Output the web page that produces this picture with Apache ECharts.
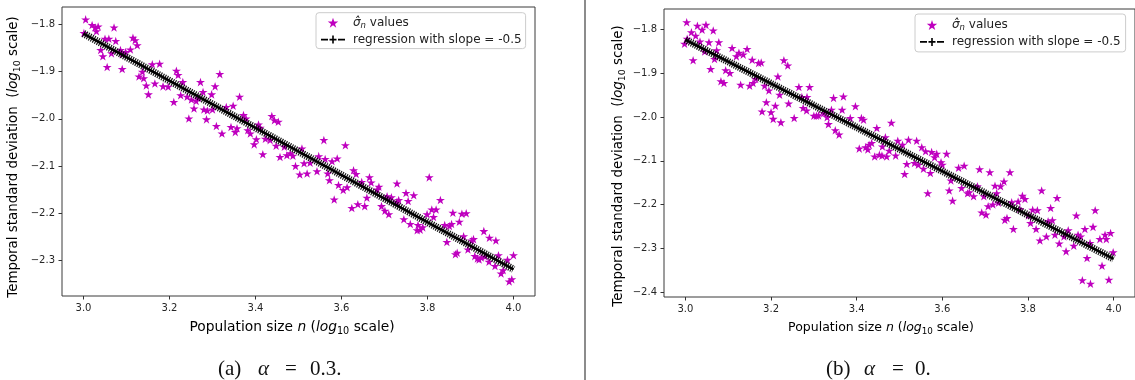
<!DOCTYPE html>
<html>
<head>
<meta charset="utf-8">
<script src="https://cdn.jsdelivr.net/npm/echarts@6/dist/echarts.min.js"></script>
<style>html,body{margin:0;padding:0;background:#fff;}#c{width:1135px;height:380px;}</style>
</head>
<body>
<div id="c"></div>
<script>
// ---- data ----
const xTicks = [3.0, 3.2, 3.4, 3.6, 3.8, 4.0];
const yTicksA = [-2.3, -2.2, -2.1, -2.0, -1.9, -1.8];
const yTicksB = [-2.4, -2.3, -2.2, -2.1, -2.0, -1.9, -1.8];

// (a) alpha = 0.3 : sigma_n values [log10 n, log10 sigma]
const sigmaA = [
[3.005,-1.789],[3.020,-1.801],[3.027,-1.806],[3.034,-1.804],[3.030,-1.814],[3.071,-1.806],[3.001,-1.818],[3.050,-1.830],[3.059,-1.830],[3.075,-1.835],
[3.115,-1.828],[3.120,-1.833],[3.125,-1.844],[3.040,-1.854],[3.045,-1.867],[3.065,-1.861],[3.086,-1.854],[3.098,-1.858],[3.109,-1.853],[3.090,-1.863],
[3.055,-1.890],[3.090,-1.894],[3.160,-1.884],[3.177,-1.883],[3.137,-1.900],[3.129,-1.910],[3.140,-1.914],[3.146,-1.929],[3.151,-1.948],[3.166,-1.925],
[3.185,-1.931],[3.197,-1.932],[3.216,-1.898],[3.220,-1.907],[3.231,-1.922],[3.210,-1.964],[3.226,-1.950],[3.241,-1.953],[3.251,-1.959],[3.262,-1.962],
[3.267,-1.955],[3.272,-1.922],[3.278,-1.943],[3.298,-1.948],[3.306,-1.931],[3.257,-1.978],[3.245,-1.999],[3.280,-1.980],[3.288,-1.982],[3.300,-1.980],
[3.286,-2.001],[3.309,-2.015],[3.317,-1.905],
[3.332,-1.975],[3.348,-1.972],[3.363,-1.953],[3.322,-2.031],[3.343,-2.017],[3.353,-2.028],[3.357,-2.020],[3.372,-1.992],[3.378,-1.999],[3.382,-2.024],
[3.388,-2.031],[3.407,-2.012],[3.411,-2.019],[3.438,-1.994],[3.444,-2.003],[3.453,-2.006],[3.402,-2.043],[3.397,-2.054],[3.423,-2.042],[3.434,-2.045],
[3.417,-2.075],[3.448,-2.057],[3.467,-2.059],[3.457,-2.081],[3.473,-2.077],[3.481,-2.073],[3.487,-2.078],[3.508,-2.063],[3.493,-2.100],[3.503,-2.118],
[3.520,-2.116],[3.513,-2.094],[3.527,-2.093],[3.543,-2.111],[3.559,-2.045],[3.547,-2.079],[3.562,-2.085],[3.578,-2.090],[3.590,-2.084],[3.568,-2.116],
[3.572,-2.130],[3.593,-2.140],[3.604,-2.151],[3.613,-2.145],[3.609,-2.056],[3.583,-2.171],[3.624,-2.189],[3.628,-2.109],
[3.634,-2.117],[3.647,-2.134],[3.665,-2.124],[3.669,-2.135],[3.687,-2.144],[3.683,-2.150],[3.729,-2.137],[3.804,-2.124],[3.638,-2.181],[3.654,-2.185],
[3.659,-2.167],[3.693,-2.185],[3.701,-2.195],[3.710,-2.202],[3.706,-2.164],[3.716,-2.166],[3.729,-2.176],[3.733,-2.172],[3.750,-2.157],[3.755,-2.174],
[3.768,-2.162],[3.745,-2.213],[3.760,-2.223],[3.778,-2.225],[3.783,-2.235],[3.776,-2.236],[3.789,-2.230],[3.799,-2.202],[3.810,-2.192],[3.820,-2.192],
[3.814,-2.208],[3.830,-2.172],[3.859,-2.199],[3.880,-2.201],[3.890,-2.200],[3.874,-2.218],[3.840,-2.225],[3.851,-2.227],[3.856,-2.223],[3.845,-2.261],
[3.884,-2.249],[3.865,-2.287],[3.869,-2.284],[3.894,-2.277],[3.903,-2.258],[3.907,-2.255],[3.931,-2.238],[3.910,-2.291],[3.916,-2.296],[3.925,-2.294],
[3.934,-2.292],[3.920,-2.298],[3.944,-2.252],
[3.959,-2.258],[3.943,-2.303],[3.957,-2.312],[3.965,-2.289],[3.986,-2.299],[3.971,-2.328],[3.976,-2.321],[3.990,-2.345],[3.996,-2.340],[4.000,-2.289]
];
const regA = [[3.0, -1.819], [4.0, -2.319]];

// (b) alpha = 0
const sigmaB = [
[3.003,-1.783],[3.028,-1.791],[3.039,-1.800],[3.048,-1.789],[3.065,-1.802],[3.014,-1.806],[3.024,-1.814],[3.004,-1.821],[2.998,-1.832],[3.034,-1.827],
[3.055,-1.829],[3.078,-1.829],[3.018,-1.870],[3.045,-1.850],[3.073,-1.847],[3.068,-1.867],[3.059,-1.890],[3.109,-1.842],[3.125,-1.853],[3.119,-1.861],
[3.135,-1.857],[3.144,-1.844],[3.094,-1.893],[3.104,-1.899],[3.083,-1.918],[3.090,-1.922],[3.156,-1.869],[3.171,-1.876],[3.177,-1.875],[3.129,-1.926],
[3.150,-1.928],[3.164,-1.913],[3.158,-1.922],[3.230,-1.870],[3.239,-1.882],[3.216,-1.907],[3.185,-1.928],[3.195,-1.939],[3.220,-1.949],[3.241,-1.969],
[3.189,-1.966],[3.179,-1.987],[3.200,-1.989],[3.210,-1.974],[3.205,-2.004],[3.223,-2.012],[3.254,-2.002],[3.265,-1.931],[3.290,-1.931],[3.272,-1.954],
[3.284,-1.954],[3.275,-1.979],[3.283,-1.985],[3.300,-1.997],[3.306,-1.997],
[3.346,-1.956],[3.369,-1.953],[3.397,-1.975],[3.366,-1.983],[3.341,-1.983],[3.311,-1.996],[3.323,-1.991],[3.331,-2.000],[3.334,-2.016],[3.350,-2.030],
[3.359,-2.040],[3.385,-2.002],[3.411,-2.002],[3.416,-2.006],[3.481,-2.013],[3.447,-2.025],[3.406,-2.072],[3.421,-2.069],[3.429,-2.063],[3.426,-2.074],
[3.435,-2.059],[3.442,-2.090],[3.453,-2.086],[3.459,-2.088],[3.470,-2.090],[3.460,-2.067],[3.467,-2.046],[3.476,-2.077],[3.491,-2.088],[3.496,-2.054],
[3.507,-2.063],[3.521,-2.052],[3.540,-2.054],[3.552,-2.069],[3.561,-2.078],[3.575,-2.080],[3.587,-2.084],[3.582,-2.092],[3.610,-2.084],[3.517,-2.107],
[3.535,-2.105],[3.544,-2.109],[3.512,-2.130],[3.556,-2.118],[3.572,-2.128],[3.597,-2.103],[3.600,-2.109],[3.566,-2.174],[3.616,-2.168],[3.620,-2.145],
[3.624,-2.191],
[3.638,-2.116],[3.651,-2.111],[3.687,-2.119],[3.711,-2.126],[3.758,-2.126],[3.645,-2.162],[3.659,-2.174],[3.663,-2.172],[3.673,-2.181],[3.682,-2.158],
[3.697,-2.181],[3.723,-2.157],[3.736,-2.158],[3.744,-2.147],[3.727,-2.174],[3.718,-2.200],[3.707,-2.204],[3.731,-2.196],[3.692,-2.218],[3.702,-2.223],
[3.746,-2.235],[3.751,-2.231],[3.766,-2.256],[3.762,-2.195],[3.777,-2.193],[3.787,-2.180],[3.793,-2.187],[3.781,-2.210],[3.801,-2.225],[3.806,-2.242],
[3.811,-2.212],[3.822,-2.213],[3.832,-2.168],[3.819,-2.256],[3.828,-2.282],[3.843,-2.273],[3.853,-2.208],[3.868,-2.185],[3.847,-2.238],[3.857,-2.236],
[3.863,-2.269],[3.873,-2.289],[3.884,-2.273],[3.889,-2.307],[3.894,-2.259],[3.907,-2.294],[3.913,-2.225],[3.917,-2.269],[3.923,-2.273],[3.933,-2.256],
[3.938,-2.322],[3.927,-2.373],[3.946,-2.381],[3.945,-2.288],[3.957,-2.213],[3.952,-2.251],
[3.968,-2.279],[3.980,-2.269],[3.983,-2.279],[3.993,-2.265],[3.999,-2.309],[3.973,-2.340],[3.989,-2.372]
];
const regB = [[3.0, -1.823], [4.0, -2.324]];

// ---- chart ----
const SIG = 'sigma_n values';
const REG = 'regression with slope = -0.5';
const STAR = 'path://M100,0L122.45,69.1L195.1,69.1L136.3,111.8L158.8,180.9L100,138.2L41.2,180.9L63.7,111.8L4.9,69.1L77.55,69.1Z';
const REGICON = 'path://M0,3.2H7V4.8H0Z M8.5,3.2H15.5V4.8H8.5Z M11.2,0H12.8V8H11.2Z M17,3.2H24V4.8H17Z';
const FONT = 'DejaVu Sans';
const fmt = v => (Math.round(v * 10) / 10).toFixed(1).replace('-', '\u2212');

function xAxis(g) {
  return {
    gridIndex: g, type: 'value', min: 2.95, max: 4.05,
    axisLine: { show: false },
    axisTick: { show: true, length: 3.5, customValues: xTicks, lineStyle: { color: '#333' } },
    axisLabel: { customValues: xTicks, formatter: fmt, margin: 7.5, fontSize: 10, color: '#262626', fontFamily: FONT },
    splitLine: { show: false }
  };
}
function yAxis(g, ticks, mn, mx) {
  return {
    gridIndex: g, type: 'value', min: mn, max: mx,
    axisLine: { show: false },
    axisTick: { show: true, length: 3.5, customValues: ticks, lineStyle: { color: '#333' } },
    axisLabel: { customValues: ticks, formatter: fmt, margin: 7, fontSize: 10, color: '#262626', fontFamily: FONT },
    splitLine: { show: false }
  };
}
function legend(left, top, pad) {
  return {
    left: left, top: top, orient: 'vertical',
    data: [{ name: SIG, icon: STAR }, { name: REG, icon: REGICON }],
    itemWidth: 24, itemHeight: 10, itemGap: 3.4,
    padding: pad,
    backgroundColor: 'rgba(255,255,255,0.85)', borderColor: '#cccccc', borderWidth: 1, borderRadius: 3,
    selectedMode: false,
    formatter: n => n === SIG ? '{i|\u03c3\u0302}{s|n}{t| values}' : '{t|' + n + '}',
    textStyle: {
      fontFamily: FONT, fontSize: 12, color: '#222', padding: [0, 0, 0, 3],
      rich: {
        t: { fontFamily: FONT, fontSize: 12, lineHeight: 15, color: '#222' },
        i: { fontFamily: FONT, fontSize: 12, fontStyle: 'italic', lineHeight: 15, color: '#222' },
        s: { fontFamily: FONT, fontSize: 8.5, fontStyle: 'italic', lineHeight: 9, verticalAlign: 'bottom', color: '#222' }
      }
    }
  };
}
function scatter(i, data) {
  return { type: 'scatter', name: SIG, xAxisIndex: i, yAxisIndex: i, data: data, symbol: STAR, symbolSize: 9,
    symbolKeepAspect: true, itemStyle: { color: '#bf00bf', opacity: 1 }, z: 2, silent: true };
}
function regLines(i, data) {
  return [
    { type: 'line', name: REG, xAxisIndex: i, yAxisIndex: i, data: data, symbol: 'none',
      lineStyle: { color: '#000', width: 2.6 }, itemStyle: { color: '#000' }, z: 4, silent: true },
    { type: 'line', name: REG, xAxisIndex: i, yAxisIndex: i, data: data, symbol: 'none',
      lineStyle: { color: '#000', width: 7.5, type: [1.2, 1.1], opacity: 0.9 }, itemStyle: { color: '#000' }, z: 3, silent: true }
  ];
}
const labRich = (fs) => ({
  a: { fontFamily: FONT, fontSize: fs, lineHeight: 17, color: '#222' },
  i: { fontFamily: FONT, fontSize: fs, fontStyle: 'italic', lineHeight: 17, color: '#222' },
  s: { fontFamily: FONT, fontSize: fs * 0.7, lineHeight: 10, verticalAlign: 'bottom', color: '#222' }
});
const xLab = '{a|Population size }{i|n}{a| (}{i|log}{s|10}{a| scale)}';
const yLab = '{a|Temporal standard deviation  (}{i|log}{s|10}{a| scale)}';
const cap = (x, t, it) => ({ type: 'text', x: x, y: 369, silent: true,
  style: { text: t, align: 'left', verticalAlign: 'middle', fontFamily: 'Liberation Serif', fontSize: 21,
    fontStyle: it ? 'italic' : 'normal', fill: '#111' } });

const chart = echarts.init(document.getElementById('c'), null, { renderer: 'canvas' });
chart.setOption({
  animation: false,
  backgroundColor: '#fff',
  grid: [
    { left: 62, top: 7, width: 473, height: 289, show: true, borderColor: '#3a3a3a', borderWidth: 1, backgroundColor: 'transparent' },
    { left: 664, top: 9, width: 474, height: 288, show: true, borderColor: '#3a3a3a', borderWidth: 1, backgroundColor: 'transparent' }
  ],
  xAxis: [xAxis(0), xAxis(1)],
  yAxis: [yAxis(0, yTicksA, -2.3756, -1.7627), yAxis(1, yTicksB, -2.4114, -1.7527)],
  legend: [legend(316, 12.7, [4, 4, 3, 5]), legend(915, 14, [5, 5, 4, 5])],
  series: [scatter(0, sigmaA)].concat(regLines(0, regA), [scatter(1, sigmaB)], regLines(1, regB)),
  graphic: [
    { type: 'line', shape: { x1: 585, y1: 0, x2: 585, y2: 380 }, style: { stroke: '#666', lineWidth: 1.5 }, silent: true },
    { type: 'text', x: 292, y: 327.5, silent: true, style: { text: xLab, align: 'center', verticalAlign: 'middle', rich: labRich(13.8) } },
    { type: 'text', x: 881, y: 327.5, silent: true, style: { text: xLab, align: 'center', verticalAlign: 'middle', rich: labRich(12.5) } },
    { type: 'text', x: 14, y: 157, rotation: Math.PI / 2, silent: true, style: { text: yLab, align: 'center', verticalAlign: 'middle', rich: labRich(13.4) } },
    { type: 'text', x: 619, y: 166, rotation: Math.PI / 2, silent: true, style: { text: yLab, align: 'center', verticalAlign: 'middle', rich: labRich(13.4) } },
    cap(218, '(a)', false), cap(258, '\u03b1', true), cap(285, '=', false), cap(310, '0.3.', false),
    cap(826, '(b)', false), cap(864, '\u03b1', true), cap(892, '=', false), cap(915, '0.', false)
  ]
});
</script>
</body>
</html>
